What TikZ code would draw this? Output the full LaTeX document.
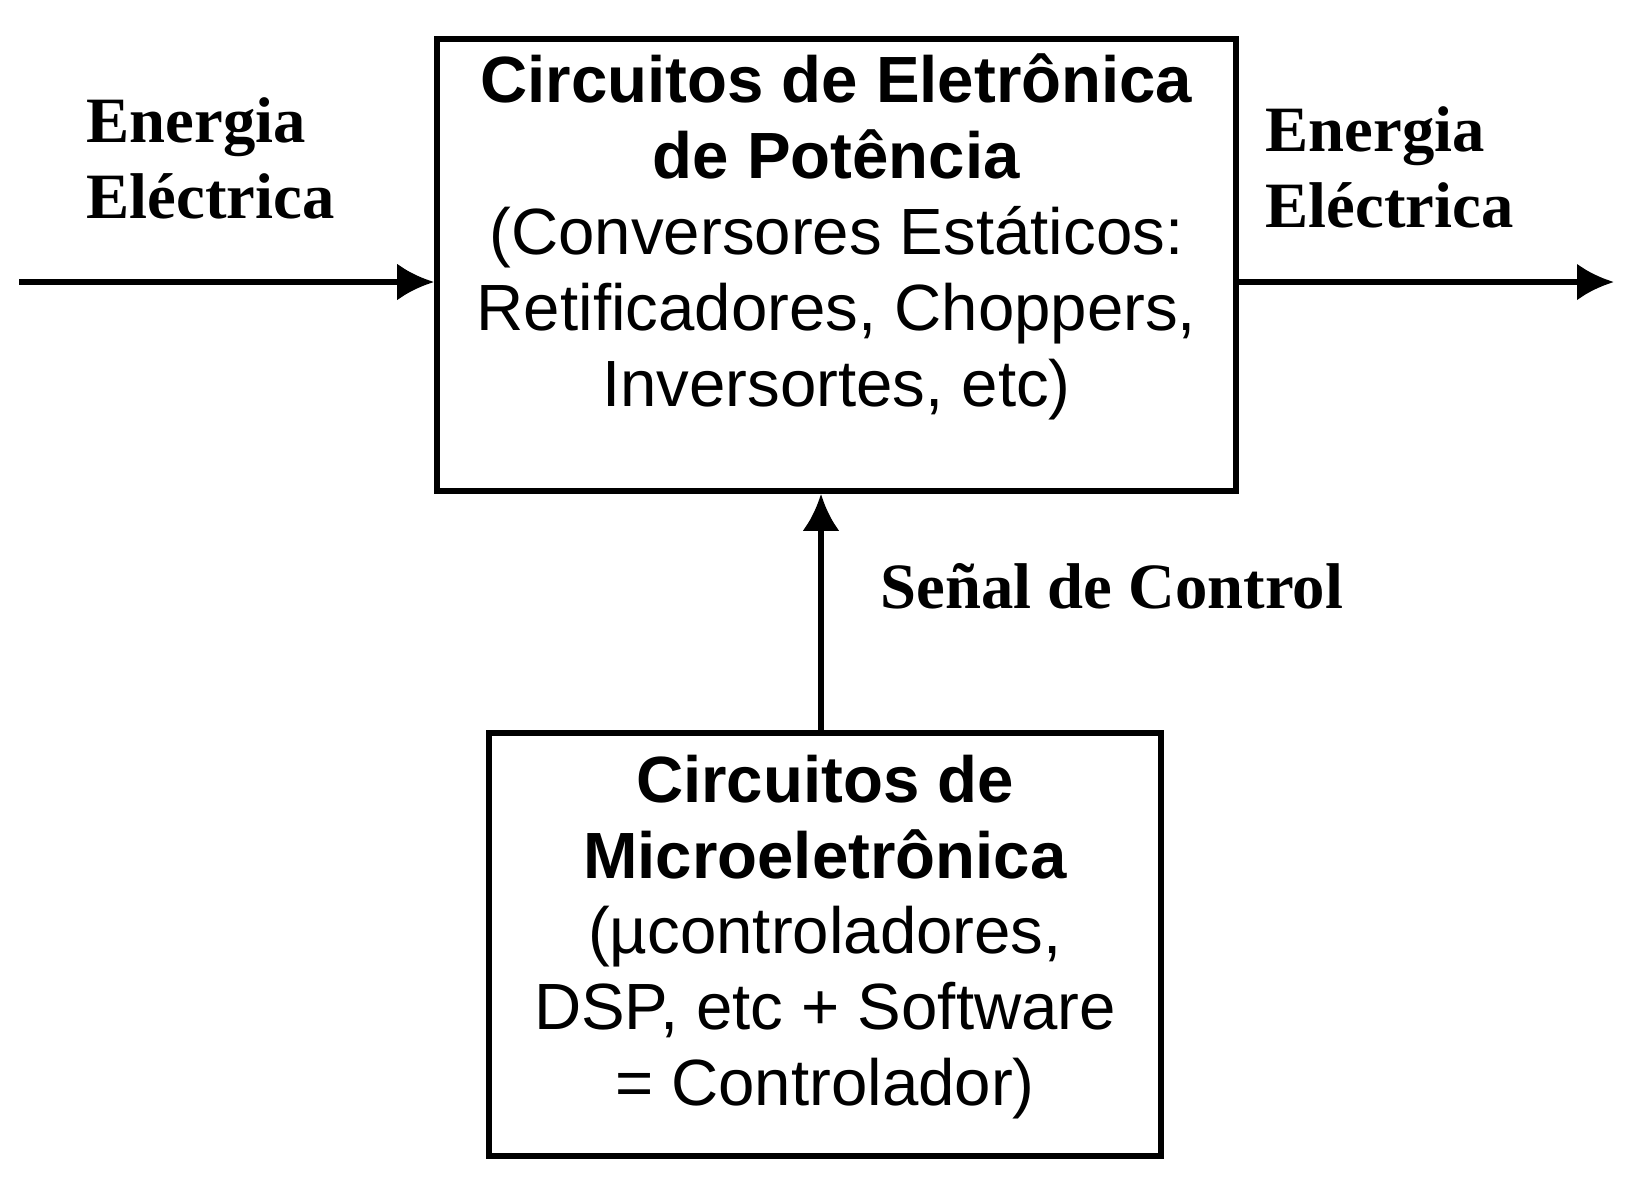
\documentclass[tikz,border=0pt]{standalone}
\usepackage{fontspec}
\setmainfont{Liberation Sans}
\newfontfamily\lblfont{Liberation Serif}
\usepackage{tikz}
\usetikzlibrary{arrows.meta}
\usetikzlibrary{positioning}
\tikzset{>={Latex[length=3.7mm,width=3.7mm]}}
\tikzstyle{blk} = [rectangle, draw=black, line width=1.6pt, inner sep=0]
\tikzstyle{txt} = [draw=none, align=center, inner sep=0, font=\fontsize{18.6}{21.6}\selectfont]
\tikzstyle{lbl} = [draw=none, align=left, inner sep=0, font=\lblfont\bfseries\fontsize{18.4}{21.6}\selectfont]

\begin{document}
\begin{tikzpicture}
\useasboundingbox (0,0) rectangle (16.33,-12);
% blocks
\node [blk, minimum width=7.99cm, minimum height=4.52cm] (pow) at (8.365, -2.65) {};
\node [txt] (powtxt) at (8.365, -2.37) {\textbf{Circuitos de Eletrônica}\\\textbf{de Potência}\\(Conversores Estáticos:\\Retificadores, Choppers,\\Inversortes, etc)};
\node [blk, minimum width=6.72cm, minimum height=4.23cm] (ctrl) at (8.25, -9.445) {};
\node [txt] (ctrltxt) at (8.25, -9.37) {\textbf{Circuitos de}\\\textbf{Microeletrônica}\\(µcontroladores,\\DSP, etc + Software\\= Controlador)};
% labels
\node [lbl, anchor=west] (ein) at (0.86, -1.58) {Energia\\Eléctrica};
\node [lbl, anchor=west] (eout) at (12.65, -1.67) {Energia\\Eléctrica};
\node [lbl, anchor=west] (sig) at (8.80, -5.86) {Señal de Control};
% connectors
\coordinate (in) at (0.19, -2.82);
\coordinate (out) at (16.14, -2.82);
\coordinate (sx) at (8.21, 0);
\draw [->, line width=1.6pt] (in) to (in -| pow.west);
\draw [->, line width=1.6pt] (pow.east |- out) to (out);
\draw [->, line width=1.6pt] (ctrl.north -| sx) to (pow.south -| sx);
\end{tikzpicture}
\end{document}
